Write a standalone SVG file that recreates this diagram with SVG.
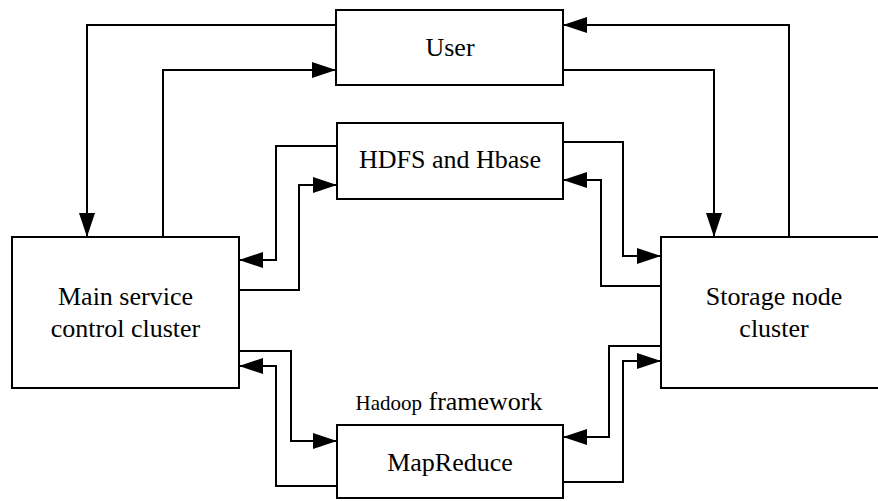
<svg xmlns="http://www.w3.org/2000/svg" width="878" height="501" viewBox="0 0 878 501">
  <style>
    .box { fill: #ffffff; stroke: #000000; stroke-width: 2; }
    .wire { fill: none; stroke: #000000; stroke-width: 2; marker-end: url(#head); }
    .label { font-family: 'Liberation Serif', 'Times New Roman', Times, 'DejaVu Serif', serif; font-size: 26px; fill: #000000; text-anchor: middle; }
  </style>
  <defs>
    <marker id="head" markerUnits="userSpaceOnUse" markerWidth="24" markerHeight="16" refX="24" refY="8" orient="auto">
      <path d="M0,0 L24,8 L0,16 z" fill="#000000"/>
    </marker>
  </defs>
  <rect width="878" height="501" fill="#ffffff"/>

  <!-- connectors -->
  <g id="connectors">
    <path class="wire" d="M336,25 H87 V237"/>
    <path class="wire" d="M163,237 V70 H336"/>
    <path class="wire" d="M789,237 V25 H563"/>
    <path class="wire" d="M563,70 H714 V237"/>
    <path class="wire" d="M337,146 H276 V260 H239"/>
    <path class="wire" d="M239,290 H299 V185 H337"/>
    <path class="wire" d="M563,142 H623 V256 H661"/>
    <path class="wire" d="M661,286 H601 V180 H563"/>
    <path class="wire" d="M239,351 H291 V441 H337"/>
    <path class="wire" d="M337,486 H276 V366 H239"/>
    <path class="wire" d="M661,346 H609 V437 H563"/>
    <path class="wire" d="M563,482 H623 V361 H661"/>
  </g>

  <g id="user">
    <rect class="box" x="336" y="10" width="227" height="75"/>
    <text class="label" x="450" y="56" font-family="Liberation Serif, serif">User</text>
  </g>

  <g id="hdfs">
    <rect class="box" x="337" y="123" width="226" height="76"/>
    <text class="label" x="450" y="168" font-family="Liberation Serif, serif">HDFS and Hbase</text>
  </g>

  <g id="main-cluster">
    <rect class="box" x="12" y="237" width="227" height="151"/>
    <text class="label" x="125.5" y="305" font-family="Liberation Serif, serif">Main service</text>
    <text class="label" x="125.5" y="337" font-family="Liberation Serif, serif">control cluster</text>
  </g>

  <g id="storage-cluster">
    <rect class="box" x="661" y="237" width="226" height="151"/>
    <text class="label" x="774" y="305" font-family="Liberation Serif, serif">Storage node</text>
    <text class="label" x="774" y="337" font-family="Liberation Serif, serif">cluster</text>
  </g>

  <g id="mapreduce">
    <text class="label" x="449" y="410" font-family="Liberation Serif, serif"><tspan font-size="21">Hadoop</tspan> framework</text>
    <rect class="box" x="337" y="425" width="226" height="73"/>
    <text class="label" x="450" y="471" font-family="Liberation Serif, serif">MapReduce</text>
  </g>
</svg>
